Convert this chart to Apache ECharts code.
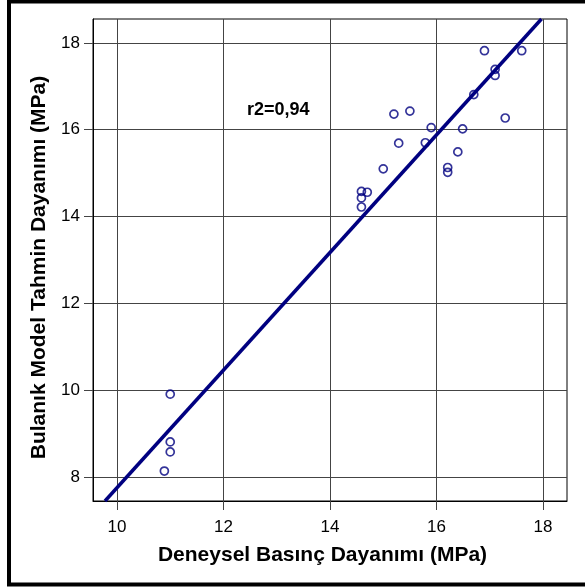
<!DOCTYPE html>
<html>
<head>
<meta charset="utf-8">
<title>Bulanık Model</title>
<script src="https://cdn.jsdelivr.net/npm/echarts@6/dist/echarts.min.js"></script>
<style>
	html, body { margin: 0; padding: 0; background: #ffffff; }
	#chart { width: 585px; height: 587px; }
</style>
</head>
<body>
<div id="chart"></div>
<script>
/**
 * Deneysel vs. bulanık model tahmini
 * */

//deneysel basınç dayanımı (x)
var deneysel = [16.90, 17.60, 17.10, 17.10, 16.70, 15.20, 15.50, 17.29, 15.90, 16.49, 15.29, 15.79,
	16.40, 15.00, 16.21, 16.21, 14.59, 14.70, 14.59, 14.59, 11.00, 11.00, 11.00, 10.89];
//bulanık model tahmini (y)
var tahmin = [17.82, 17.82, 17.39, 17.25, 16.81, 16.36, 16.43, 16.27, 16.05, 16.02, 15.69, 15.70,
	15.49, 15.10, 15.13, 15.02, 14.58, 14.56, 14.43, 14.22, 9.91, 8.81, 8.58, 8.14];
//regresyon doğrusu uç noktaları
var fitX = [9.775, 17.97];
var fitY = [7.45, 18.55];
//eksen işaretleri
var xTicks = [10, 12, 14, 16, 18];
var yTicks = [8, 10, 12, 14, 16, 18];
var r2Text = 'r2=0,94';

var font = '"Liberation Sans", Arial, sans-serif';
var gridColor = '#444444';
var navy = '#000080';

var points = deneysel.map(function(x, i) {
	return [x, tahmin[i]];
});
var fitLine = fitX.map(function(x, i) {
	return [x, fitY[i]];
});

function axisCommon(ticks) {
	return {
		axisLine: { show: true, onZero: false, lineStyle: { color: '#000000', width: 1 } },
		axisTick: {
			show: true,
			inside: false,
			length: 9,
			customValues: ticks,
			lineStyle: { color: gridColor, width: 1 }
		},
		axisLabel: {
			customValues: ticks,
			color: '#000000',
			fontFamily: font,
			fontSize: 17
		},
		splitLine: { show: true, lineStyle: { color: gridColor, width: 1 } }
	};
}

var xAxis = axisCommon(xTicks);
xAxis.type = 'value';
xAxis.min = 9.55;
xAxis.max = 18.45;
xAxis.axisLabel.margin = 18;
xAxis.name = 'Deneysel Basınç Dayanımı (MPa)';
xAxis.nameLocation = 'middle';
xAxis.nameGap = 44;
xAxis.nameTextStyle = {
	color: '#000000', fontFamily: font, fontSize: 21, fontWeight: 'bold',
	padding: [0, 15, 0, 0]
};

var yAxis = axisCommon(yTicks);
yAxis.type = 'value';
yAxis.min = 7.45;
yAxis.max = 18.55;
yAxis.axisLabel.margin = 13;
yAxis.name = 'Bulanık Model Tahmin Dayanımı (MPa)';
yAxis.nameLocation = 'middle';
yAxis.nameGap = 41;
yAxis.nameTextStyle = {
	color: '#000000', fontFamily: font, fontSize: 21, fontWeight: 'bold',
	padding: [0, 15, 0, 0]
};

var option = {
	backgroundColor: '#ffffff',
	animation: false,
	grid: {
		left: 93, top: 19, width: 474, height: 482,
		show: true, borderColor: '#000000', borderWidth: 1,
		backgroundColor: 'transparent'
	},
	xAxis: xAxis,
	yAxis: yAxis,
	graphic: [{
		type: 'rect',
		shape: { x: 9, y: 1.5, width: 640, height: 583 },
		style: { fill: 'transparent', stroke: '#000000', lineWidth: 4 },
		silent: true
	}, {
		type: 'text',
		left: 247,
		top: 101,
		style: {
			text: r2Text,
			fill: '#000000',
			font: 'bold 18px ' + font
		}
	}],
	series: [{
		type: 'line',
		data: fitLine,
		symbol: 'none',
		lineStyle: { color: navy, width: 3.5 },
		z: 2
	}, {
		type: 'scatter',
		data: points,
		symbol: 'circle',
		symbolSize: 8,
		itemStyle: { color: 'transparent', borderColor: navy, borderWidth: 1.7 },
		z: 3
	}]
};

var myChart = echarts.init(document.getElementById('chart'));
myChart.setOption(option);
</script>
</body>
</html>
